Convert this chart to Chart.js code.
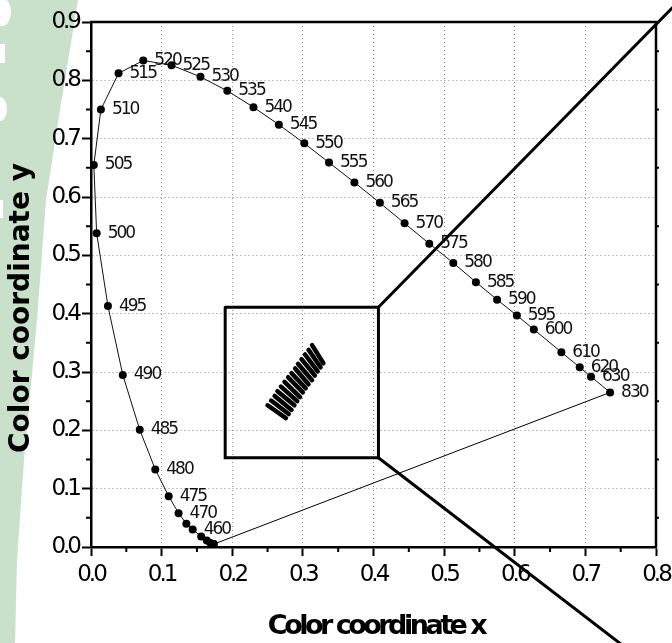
<!DOCTYPE html>
<html>
<head>
<meta charset="utf-8">
<script src="https://cdn.jsdelivr.net/npm/chart.js@4.4.0/dist/chart.umd.min.js"></script>
<style>
    html, body { margin: 0; padding: 0; background: #fff; }
    #wrap { width: 672px; height: 643px; }
</style>
</head>
<body>
<div id="wrap"><canvas id="cie" width="672" height="643"></canvas></div>
<script>
"use strict";

// spectral locus
let wavelengths = [380, 400, 420, 430, 440, 450, 460, 465, 470, 475, 480, 485, 490, 495, 500, 505, 510, 515, 520,
    525, 530, 535, 540, 545, 550, 555, 560, 565, 570, 575, 580, 585, 590, 595, 600, 610, 620, 630, 830];
let cieX = [0.174, 0.173, 0.171, 0.169, 0.164, 0.156, 0.144, 0.135, 0.124, 0.110, 0.091, 0.069, 0.045, 0.024, 0.008,
    0.004, 0.014, 0.039, 0.074, 0.114, 0.155, 0.193, 0.230, 0.266, 0.302, 0.337, 0.373, 0.409, 0.444, 0.479, 0.513,
    0.545, 0.575, 0.603, 0.627, 0.666, 0.692, 0.708, 0.735];
let cieY = [0.005, 0.005, 0.005, 0.007, 0.011, 0.018, 0.030, 0.040, 0.058, 0.087, 0.133, 0.201, 0.295, 0.413, 0.538,
    0.655, 0.750, 0.812, 0.834, 0.826, 0.806, 0.782, 0.754, 0.724, 0.692, 0.659, 0.625, 0.590, 0.555, 0.520, 0.487,
    0.454, 0.424, 0.397, 0.373, 0.334, 0.308, 0.292, 0.265];
let labelledWavelengths = [460, 470, 475, 480, 485, 490, 495, 500, 505, 510, 515, 520, 525, 530, 535, 540, 545, 550,
    555, 560, 565, 570, 575, 580, 585, 590, 595, 600, 610, 620, 630, 830];

// inset box and the two zoom lines leaving its right corners
let boxX = [0.190, 0.407, 0.407, 0.190, 0.190];
let boxY = [0.411, 0.411, 0.153, 0.153, 0.411];
let upperZoomX = [0.407, 0.848];
let upperZoomY = [0.411, 0.955];
let lowerZoomX = [0.407, 0.780];
let lowerZoomY = [0.153, -0.194];

// short slanted strokes inside the box
let stripeStartX = [0.250, 0.255, 0.260, 0.264, 0.269, 0.274, 0.279, 0.284, 0.289, 0.293, 0.298, 0.303, 0.308, 0.313];
let stripeStartY = [0.243, 0.251, 0.259, 0.267, 0.275, 0.283, 0.291, 0.298, 0.306, 0.314, 0.322, 0.330, 0.338, 0.346];
let stripeEndX = [0.276, 0.280, 0.284, 0.288, 0.292, 0.296, 0.300, 0.304, 0.308, 0.313, 0.317, 0.321, 0.325, 0.329];
let stripeEndY = [0.221, 0.228, 0.235, 0.243, 0.250, 0.257, 0.265, 0.272, 0.279, 0.286, 0.294, 0.301, 0.308, 0.315];

let xMinorTicks = [0.05, 0.15, 0.25, 0.35, 0.45, 0.55, 0.65, 0.75];
let yMinorTicks = [0.05, 0.15, 0.25, 0.35, 0.45, 0.55, 0.65, 0.75, 0.85];

function toPoints(xs, ys) {
    return xs.map((x, i) => ({x: x, y: ys[i]}));
}

function plainLine(xs, ys, width, clip) {
    return {
        data: toPoints(xs, ys),
        showLine: true,
        borderColor: '#000',
        borderWidth: width,
        borderCapStyle: 'round',
        pointRadius: 0,
        clip: clip
    };
}

let datasets = [];
datasets.push({
    data: toPoints(cieX, cieY),
    showLine: true,
    borderColor: '#111',
    borderWidth: 1,
    pointRadius: 4,
    pointBorderWidth: 0,
    pointBackgroundColor: '#000'
});
// purple line 830 -> 380
datasets.push(plainLine([cieX[cieX.length - 1], cieX[0]], [cieY[cieY.length - 1], cieY[0]], 1, undefined));
datasets.push(plainLine(boxX, boxY, 3, undefined));
datasets.push(plainLine(upperZoomX, upperZoomY, 3, false));
datasets.push(plainLine(lowerZoomX, lowerZoomY, 3, false));
for (let i = 0; i < stripeStartX.length; i++) {
    datasets.push(plainLine([stripeStartX[i], stripeEndX[i]], [stripeStartY[i], stripeEndY[i]], 4.5, undefined));
}

let backdropPlugin = {
    id: 'backdrop',
    beforeDraw(chart) {
        let ctx = chart.ctx;
        ctx.save();
        ctx.fillStyle = '#fff';
        ctx.fillRect(0, 0, chart.width, chart.height);
        ctx.fillStyle = '#c9e1ca';
        ctx.beginPath();
        ctx.moveTo(0, 0);
        ctx.lineTo(78, 0);
        ctx.lineTo(60, 110);
        ctx.lineTo(46, 200);
        ctx.lineTo(37, 320);
        ctx.lineTo(24, 460);
        ctx.lineTo(17, 560);
        ctx.lineTo(15, 643);
        ctx.lineTo(0, 643);
        ctx.closePath();
        ctx.fill();
        ctx.fillStyle = '#fff';
        ctx.beginPath();
        ctx.ellipse(2, 12, 9, 14, 0, 0, Math.PI * 2);
        ctx.fill();
        ctx.fillRect(0, 44, 5, 19);
        ctx.beginPath();
        ctx.ellipse(0, 109, 7, 12, 0, 0, Math.PI * 2);
        ctx.fill();
        ctx.fillRect(0, 200, 3, 18);
        ctx.restore();
        // tight tick labels
        ctx.letterSpacing = '-3px';
    }
};

let decorPlugin = {
    id: 'decor',
    afterDatasetsDraw(chart) {
        let ctx = chart.ctx;
        let meta = chart.getDatasetMeta(0);
        ctx.save();
        ctx.font = '17px "DejaVu Sans"';
        ctx.letterSpacing = '-2px';
        ctx.fillStyle = '#111';
        ctx.textBaseline = 'middle';
        ctx.textAlign = 'left';
        wavelengths.forEach((w, i) => {
            if (labelledWavelengths.includes(w)) {
                let pt = meta.data[i];
                ctx.fillText(String(w), pt.x + 11, pt.y);
            }
        });
        ctx.restore();
    },
    afterDraw(chart) {
        let ctx = chart.ctx;
        let area = chart.chartArea;
        let xs = chart.scales.x;
        let ys = chart.scales.y;
        ctx.save();
        ctx.strokeStyle = '#000';
        ctx.lineWidth = 2.5;
        ctx.beginPath();
        ctx.moveTo(area.left - 1, area.top);
        ctx.lineTo(area.right, area.top);
        ctx.lineTo(area.right, area.bottom);
        ctx.stroke();

        ctx.lineWidth = 2;
        ctx.beginPath();
        xMinorTicks.forEach(v => {
            let px = xs.getPixelForValue(v);
            ctx.moveTo(px, area.bottom);
            ctx.lineTo(px, area.bottom + 5);
        });
        yMinorTicks.forEach(v => {
            let py = ys.getPixelForValue(v);
            ctx.moveTo(area.left, py);
            ctx.lineTo(area.left - 5, py);
            ctx.moveTo(area.right, py);
            ctx.lineTo(area.right + 3, py);
        });
        ctx.stroke();

        ctx.fillStyle = '#000';
        ctx.font = 'bold 27px "DejaVu Sans"';
        ctx.letterSpacing = '-3.5px';
        ctx.textAlign = 'center';
        ctx.textBaseline = 'alphabetic';
        ctx.fillText('Color coordinate x', 376, 634);

        ctx.letterSpacing = '0px';
        ctx.font = 'bold 28px "DejaVu Sans"';
        ctx.translate(22, 308);
        ctx.rotate(-Math.PI / 2);
        ctx.textBaseline = 'middle';
        ctx.fillText('Color coordinate y', 0, 0);
        ctx.restore();
    }
};

let tickFont = {family: 'DejaVu Sans', size: 23};

new Chart(document.getElementById('cie'), {
    type: 'scatter',
    data: {datasets: datasets},
    options: {
        responsive: false,
        animation: false,
        layout: {padding: {top: 22, right: 16, left: 0, bottom: 0}},
        plugins: {
            legend: {display: false},
            tooltip: {enabled: false}
        },
        scales: {
            x: {
                type: 'linear',
                min: 0,
                max: 0.8,
                ticks: {
                    stepSize: 0.1,
                    color: '#000',
                    padding: 5,
                    maxRotation: 0,
                    font: tickFont,
                    callback: v => v.toFixed(1)
                },
                grid: {color: '#8a8a8a', lineWidth: 1, tickColor: '#000', tickLength: 9, tickWidth: 2},
                border: {color: '#000', width: 2.5, dash: [1, 3]},
                afterFit: scale => {
                    scale.height = 96;
                    scale.paddingLeft = 0;
                    scale.paddingRight = 0;
                }
            },
            y: {
                type: 'linear',
                min: 0,
                max: 0.9,
                ticks: {
                    stepSize: 0.1,
                    color: '#000',
                    padding: 3,
                    font: tickFont,
                    callback: v => v.toFixed(1)
                },
                grid: {color: '#8a8a8a', lineWidth: 1, tickColor: '#000', tickLength: 9, tickWidth: 2},
                border: {color: '#000', width: 2.5, dash: [1, 3]},
                afterFit: scale => {
                    scale.width = 91;
                    scale.paddingTop = 0;
                    scale.paddingBottom = 0;
                }
            }
        }
    },
    plugins: [backdropPlugin, decorPlugin]
});
</script>
</body>
</html>
